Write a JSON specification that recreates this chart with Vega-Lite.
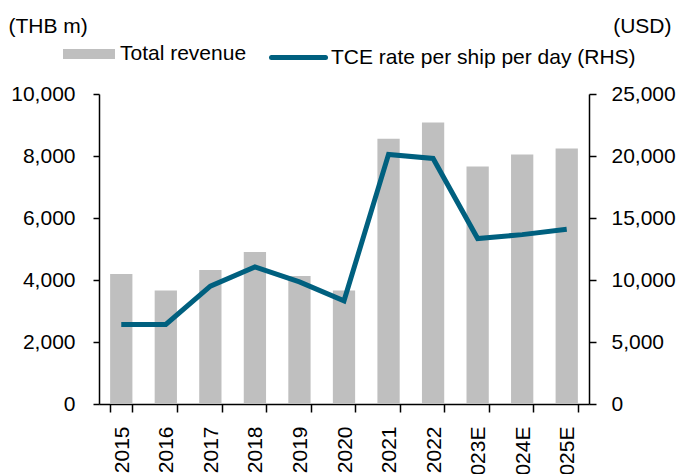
{
  "$schema": "https://vega.github.io/schema/vega-lite/v6.json",
  "autosize": {"type": "none"},
  "width": 490,
  "height": 310,
  "padding": {"left": 99, "top": 94, "right": 94, "bottom": 70},
  "background": "white",
  "config": {
    "view": {"stroke": null},
    "font": "Liberation Sans",
    "axis": {"labelFont": "Liberation Sans", "titleFont": "Liberation Sans", "labelFontSize": 21, "titleFontSize": 21, "labelColor": "#000", "titleColor": "#000", "domainColor": "#000", "tickColor": "#000", "domainWidth": 1.5, "tickWidth": 1.5, "grid": false, "titleFontWeight": "normal"},
    "legend": {"labelFont": "Liberation Sans", "labelFontSize": 21, "labelColor": "#000", "padding": 0, "labelLimit": 0}
  },
  "data": {"values": [
    {"year": "2015", "revenue": 4190, "tce": 6420},
    {"year": "2016", "revenue": 3660, "tce": 6420},
    {"year": "2017", "revenue": 4320, "tce": 9500},
    {"year": "2018", "revenue": 4900, "tce": 11050},
    {"year": "2019", "revenue": 4130, "tce": 9850},
    {"year": "2020", "revenue": 3660, "tce": 8320},
    {"year": "2021", "revenue": 8560, "tce": 20130},
    {"year": "2022", "revenue": 9080, "tce": 19800},
    {"year": "2023E", "revenue": 7660, "tce": 13340},
    {"year": "2024E", "revenue": 8050, "tce": 13660},
    {"year": "2025E", "revenue": 8240, "tce": 14090}
  ]},
  "encoding": {
    "x": {"field": "year", "type": "nominal", "sort": null,
      "scale": {"paddingInner": 0.5, "paddingOuter": 0.25},
      "axis": {"title": null, "labelAngle": -90, "labelAlign": "right", "labelBaseline": "middle", "labelPadding": 14, "labelOffset": 1, "tickSize": 8, "tickBand": "extent"}}
  },
  "layer": [
    {
      "mark": {"type": "bar"},
      "encoding": {
        "y": {"field": "revenue", "type": "quantitative",
          "scale": {"domain": [0, 10000], "nice": false},
          "axis": {"values": [0, 2000, 4000, 6000, 8000, 10000], "format": ",.0f", "tickSize": 6, "labelPadding": 18,
            "title": "(THB m)", "titleAngle": 0, "titleAlign": "left", "titleBaseline": "alphabetic", "titleX": -91, "titleY": -62}},
        "fill": {"datum": "Total revenue", "type": "nominal",
          "scale": {"range": ["#BFBFBF"]},
          "legend": {"title": null, "orient": "none", "legendX": -36, "legendY": -66, "symbolType": "M-1,-0.19H1V0.19H-1Z", "symbolSize": 2704, "symbolStrokeWidth": 0, "labelOffset": 5, "symbolOpacity": 1}}
      }
    },
    {
      "mark": {"type": "line", "strokeWidth": 5},
      "encoding": {
        "y": {"field": "tce", "type": "quantitative",
          "scale": {"domain": [0, 25000], "nice": false},
          "axis": {"orient": "right", "values": [0, 5000, 10000, 15000, 20000, 25000], "format": ",.0f", "tickSize": 7, "labelPadding": 15,
            "title": "(USD)", "titleAngle": 0, "titleAlign": "right", "titleBaseline": "alphabetic", "titleX": 82, "titleY": -62}},
        "stroke": {"datum": "TCE rate per ship per day (RHS)", "type": "nominal",
          "scale": {"range": ["#00607F"]},
          "legend": {"title": null, "orient": "none", "legendX": 170, "legendY": -66, "symbolType": "stroke", "symbolSize": 2916, "symbolStrokeWidth": 5, "labelOffset": 3,
            "encode": {"symbols": {"update": {"strokeCap": {"value": "round"}}}}}}
      }
    }
  ],
  "resolve": {"scale": {"y": "independent", "fill": "independent", "stroke": "independent"}}
}
